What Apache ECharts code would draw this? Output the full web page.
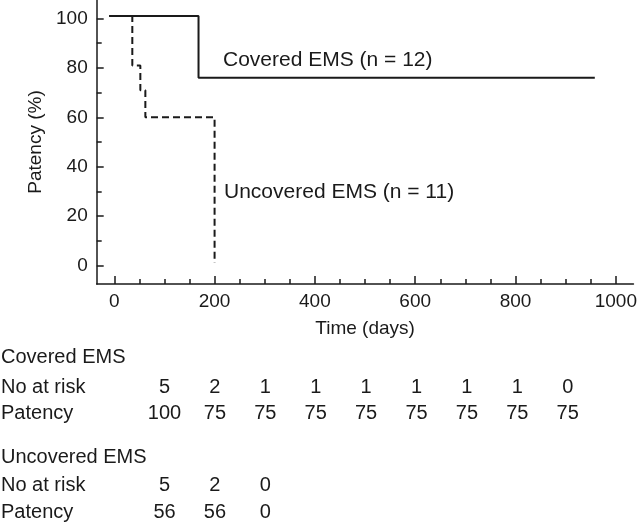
<!DOCTYPE html>
<html>
<head>
<meta charset="utf-8">
<script src="https://cdn.jsdelivr.net/npm/echarts@6/dist/echarts.min.js"></script>
<style>
  html, body { margin: 0; padding: 0; background: #fff; }
  #chart { width: 640px; height: 524px; }
</style>
</head>
<body>
<div id="chart"></div>
<script>
// curves: [days, patency %]
var covered = [[-10, 101], [168, 101], [168, 76], [958, 76]];
var uncovered = [[-10, 101], [36, 101], [36, 81], [52, 81], [52, 71], [62, 71], [62, 60], [200, 60], [200, 1]];

var xMajor = [0, 200, 400, 600, 800, 1000];
var xMinor = [0, 50, 100, 150, 200, 250, 300, 350, 400, 450, 500, 550, 600, 650, 700, 750, 800, 850, 900, 950, 1000];
var yMajor = [0, 20, 40, 60, 80, 100];
var yMinor = [0, 10, 20, 30, 40, 50, 60, 70, 80, 90, 100];

// table under the plot
var coveredRisk = ['5', '2', '1', '1', '1', '1', '1', '1', '0'];
var coveredPatency = ['100', '75', '75', '75', '75', '75', '75', '75', '75'];
var uncoveredRisk = ['5', '2', '0'];
var uncoveredPatency = ['56', '56', '0'];

var font = '"Liberation Sans", Arial, sans-serif';
var ink = '#1a1a1a';

var chart = echarts.init(document.getElementById('chart'));

var tableText = function (txt, x, y, align) {
    return {
        type: 'text', x: x, y: y,
        style: { text: txt, font: '20px ' + font, fill: ink, align: align || 'left', verticalAlign: 'middle' }
    };
};

var graphics = [
    { type: 'text', x: 223, y: 60, style: { text: 'Covered EMS (n = 12)', font: '21px ' + font, fill: ink, verticalAlign: 'middle' } },
    { type: 'text', x: 224, y: 192, style: { text: 'Uncovered EMS (n = 11)', font: '21px ' + font, fill: ink, verticalAlign: 'middle' } },
    tableText('Covered EMS', 1, 357),
    tableText('No at risk', 1, 387),
    tableText('Patency', 1, 413),
    tableText('Uncovered EMS', 1, 457),
    tableText('No at risk', 1, 485),
    tableText('Patency', 1, 512)
];
var colX = function (i) { return 164.5 + 50.4 * i; };
coveredRisk.forEach(function (v, i) { graphics.push(tableText(v, colX(i), 387, 'center')); });
coveredPatency.forEach(function (v, i) { graphics.push(tableText(v, colX(i), 413, 'center')); });
uncoveredRisk.forEach(function (v, i) { graphics.push(tableText(v, colX(i), 485, 'center')); });
uncoveredPatency.forEach(function (v, i) { graphics.push(tableText(v, colX(i), 512, 'center')); });

var plain = function (v) { return String(v); };

var option = {
    backgroundColor: '#fff',
    animation: false,
    grid: { left: 96.7, right: 3.3, top: 0, bottom: 240, containLabel: false },
    xAxis: [{
        type: 'value', min: -35, max: 1035,
        name: 'Time (days)', nameLocation: 'middle', nameGap: 35,
        nameTextStyle: { fontFamily: font, fontSize: 19, color: ink },
        axisLine: { show: true, onZero: false, lineStyle: { color: ink, width: 1.5 } },
        axisTick: { show: true, inside: true, length: 8, customValues: xMajor, lineStyle: { color: ink, width: 1.5 } },
        axisLabel: { customValues: xMajor, formatter: plain, margin: 8, fontFamily: font, fontSize: 19, color: ink },
        splitLine: { show: false }
    }, {
        type: 'value', min: -35, max: 1035, position: 'bottom',
        axisLine: { show: false, onZero: false },
        axisTick: { show: true, inside: true, length: 5, customValues: xMinor, lineStyle: { color: ink, width: 1.5 } },
        axisLabel: { show: false },
        splitLine: { show: false }
    }],
    yAxis: [{
        type: 'value', min: -7.5, max: 107.5,
        name: 'Patency (%)', nameLocation: 'middle', nameGap: 41, nameRotate: 90,
        nameTextStyle: { fontFamily: font, fontSize: 19, color: ink },
        axisLine: { show: true, onZero: false, lineStyle: { color: ink, width: 1.5 } },
        axisTick: { show: true, inside: true, length: 7, customValues: yMajor, lineStyle: { color: ink, width: 1.5 } },
        axisLabel: { customValues: yMajor, formatter: plain, margin: 9, fontFamily: font, fontSize: 19, color: ink },
        splitLine: { show: false }
    }, {
        type: 'value', min: -7.5, max: 107.5, position: 'left',
        axisLine: { show: false, onZero: false },
        axisTick: { show: true, inside: true, length: 5, customValues: yMinor, lineStyle: { color: ink, width: 1.5 } },
        axisLabel: { show: false },
        splitLine: { show: false }
    }],
    series: [{
        name: 'Covered EMS', type: 'line', data: covered,
        symbol: 'none', lineStyle: { color: ink, width: 2 }
    }, {
        name: 'Uncovered EMS', type: 'line', data: uncovered,
        symbol: 'none', lineStyle: { color: ink, width: 2, type: [7, 4] }
    }],
    graphic: graphics
};
chart.setOption(option);
</script>
</body>
</html>
